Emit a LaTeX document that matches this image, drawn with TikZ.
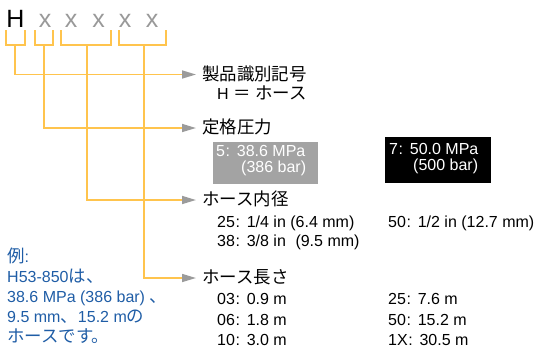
\documentclass[tikz,border=0pt]{standalone}
\usepackage{fontspec}
\setmainfont{Liberation Sans}
\newfontfamily\jp[Scale=1.09]{Noto Sans CJK JP}
\usetikzlibrary{arrows.meta}
\definecolor{brk}{HTML}{FFC44D}
\definecolor{tipgray}{HTML}{9B9B9B}
\definecolor{boxgray}{HTML}{A3A3A3}
\definecolor{lettergray}{HTML}{999999}
\definecolor{exblue}{HTML}{1F5DA6}
\newcommand\cln{\hspace{0.04em}:\hspace{0.42em}}
\newcommand\lp{\hspace{0.28em}(}
\newcommand\rp{)}
\begin{document}
\begin{tikzpicture}[x=1pt,y=-1pt,
  font=\fontsize{16}{19}\selectfont,
  lab/.style={anchor=west, inner sep=0pt, text height=12pt, text depth=1pt},
  txt/.style={anchor=base west, inner sep=0pt},
  big/.style={anchor=base, inner sep=0pt, font=\fontsize{25}{25}\selectfont},
  brack/.style={draw=brk, line width=1.6pt},
  conn/.style={draw=brk, line width=1.6pt,
    -{Triangle[length=14pt,width=8pt,color=tipgray]}, shorten >=6pt},
  graybox/.style={fill=boxgray, minimum width=105pt, minimum height=42pt, anchor=north west, inner sep=0pt},
  blackbox/.style={fill=black, minimum width=106pt, minimum height=46pt, anchor=north west, inner sep=0pt},
  ex/.style={txt, text=exblue}]
\useasboundingbox (0,0) rectangle (544,349);

% code letters
\node[big] (cH) at (15.5,27) {H};
\node[big, text=lettergray] (c1) at (45,27) {x};
\node[big, text=lettergray] (c2) at (71,27) {x};
\node[big, text=lettergray] (c3) at (98.5,27) {x};
\node[big, text=lettergray] (c4) at (125,27) {x};
\node[big, text=lettergray] (c5) at (152,27) {x};

% brackets
\draw[brack] (6,30) -- (6,45) -- (25,45) -- (25,30);
\draw[brack] (35,30) -- (35,45) -- (53,45) -- (53,30);
\draw[brack] (61,30) -- (61,45) -- (111,45) -- (111,30);
\draw[brack] (119,30) -- (119,45) -- (166,45) -- (166,30);
\coordinate (s1) at (15,45);
\coordinate (s2) at (44,45);
\coordinate (s3) at (87,45);
\coordinate (s4) at (144,45);

% labels
\node[lab] (l1) at (202,74.5) {\jp 製品識別記号};
\node[lab] (l2) at (202,128) {\jp 定格圧力};
\node[lab] (l3) at (202,200) {\jp ホース内径};
\node[lab] (l4) at (202,278) {\jp ホース長さ};

% connectors
\draw[conn] (s1) |- (l1.west);
\draw[conn] (s2) |- (l2.west);
\draw[conn] (s3) |- (l3.west);
\draw[conn] (s4) |- (l4.west);

% product id
\node[txt] (h1) at (217,99) {H {\jp ＝} {\jp ホース}};

% pressure boxes
\node[graybox] (p5) at (213,142) {};
\node[txt, text=white] (p5a) at (216,156) {5\cln 38.6 MPa};
\node[txt, text=white] (p5b) at (241,172) {(386 bar)};
\node[blackbox] (p7) at (385,137) {};
\node[txt, text=white] (p7a) at (389,154) {7\cln 50.0 MPa};
\node[txt, text=white] (p7b) at (413,170) {(500 bar)};

% inner diameter
\node[txt] (d25) at (217,227) {25\cln 1/4 in\lp 6.4 mm\rp};
\node[txt] (d38) at (217,246) {38\cln 3/8 in\hspace{0.6em}(9.5 mm\rp};
\node[txt] (d50) at (388,227) {50\cln 1/2 in\lp 12.7 mm\rp};

% length
\node[txt] (n03) at (217,304.5) {03\cln 0.9 m};
\node[txt] (n06) at (217,325) {06\cln 1.8 m};
\node[txt] (n10) at (217,345.5) {10\cln 3.0 m};
\node[txt] (n25) at (388,304.5) {25\cln 7.6 m};
\node[txt] (n50) at (388,325) {50\cln 15.2 m};
\node[txt] (n1X) at (388,345.5) {1X\cln 30.5 m};

% example
\node[ex] (e1) at (7,262) {{\jp 例}:};
\node[ex] (e2) at (7,282) {H53-850{\jp は、}};
\node[ex] (e3) at (7,302) {38.6 MPa\lp 386 bar\rp\hspace{0.3em}{\jp 、}};
\node[ex] (e4) at (7,322) {9.5 mm{\jp 、}15.2 m{\jp の}};
\node[ex] (e5) at (7,342) {{\jp ホースです。}};
\end{tikzpicture}
\end{document}
